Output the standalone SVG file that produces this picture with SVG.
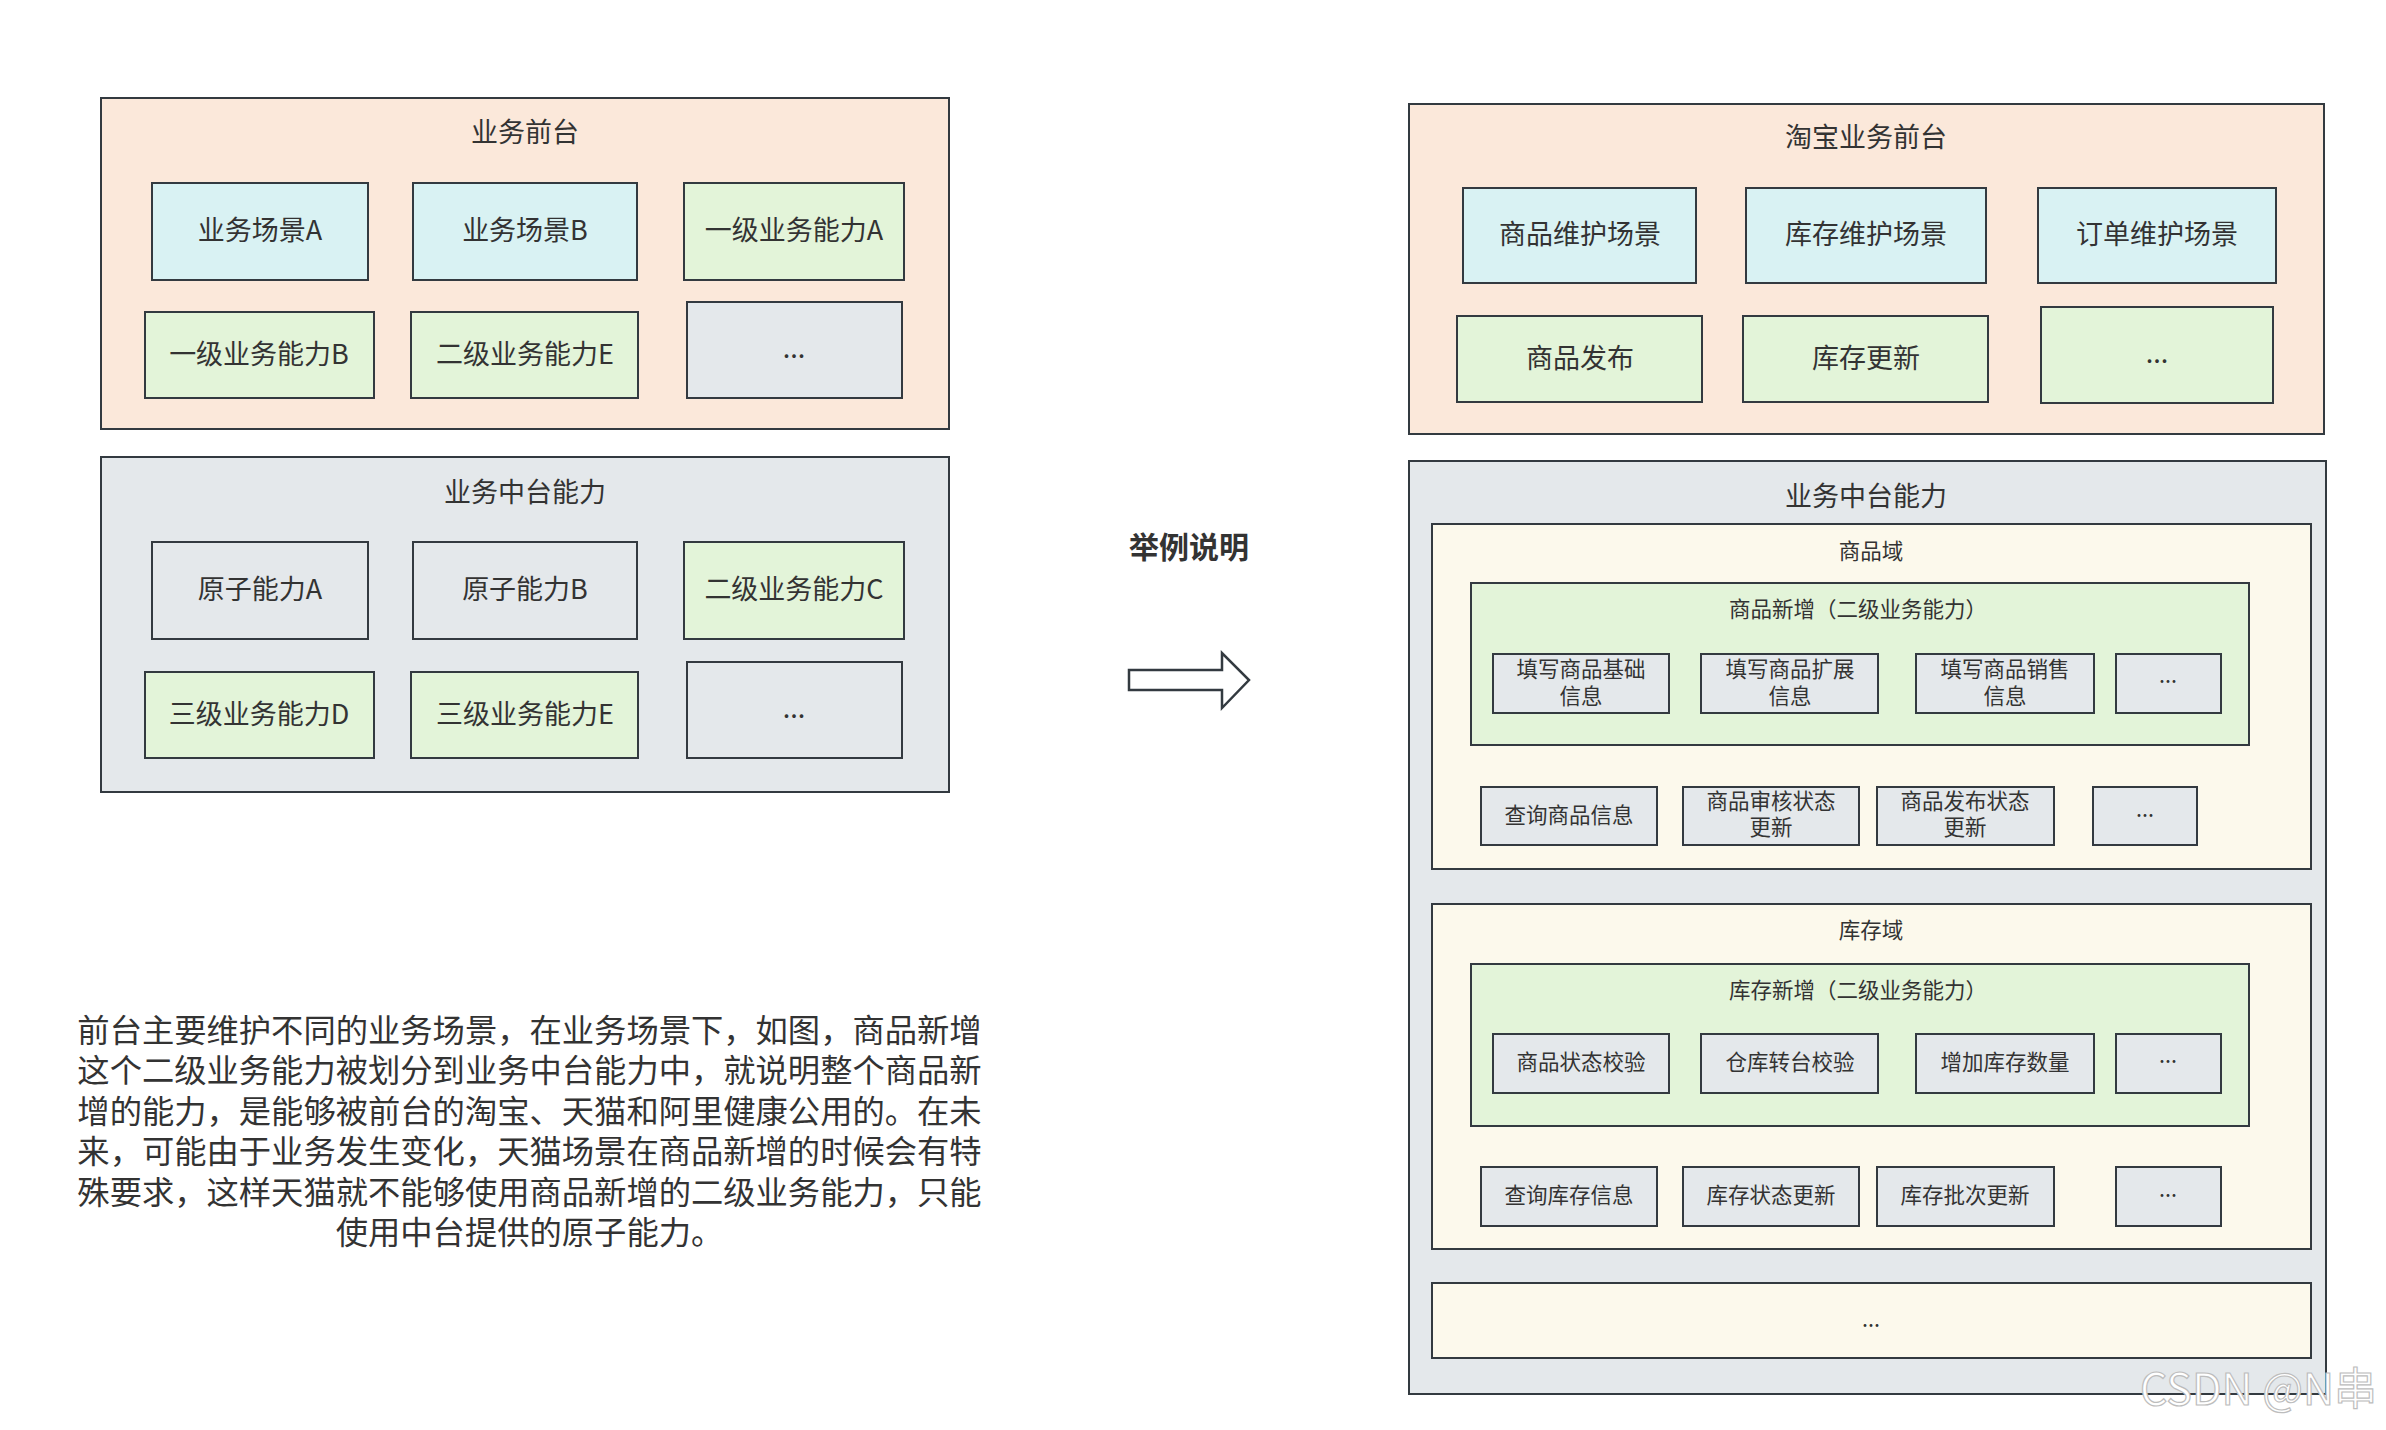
<svg xmlns="http://www.w3.org/2000/svg" width="2386" height="1430" viewBox="0 0 2386 1430">
<style>
.t{font-family:"Noto Sans CJK SC","Noto Sans",sans-serif;fill:#333;text-anchor:middle;dominant-baseline:central}
.f27{font-size:27px}
.f22{font-size:21.5px}
.fp{font-size:32.3px}
.b{stroke:#333a40;stroke-width:2}
.peach{fill:#fbe8da}
.cyan{fill:#d9f2f3}
.green{fill:#e3f4d9}
.gray{fill:#e4e8eb}
.cream{fill:#fcf9ec}
</style>
<rect width="2386" height="1430" fill="#ffffff"/>

<!-- Left: 业务前台 -->
<g id="left-front">
<rect class="b peach" x="101" y="98" width="848" height="331"/>
<text class="t f27" x="525" y="130">业务前台</text>
</g>
<g id="l-scene-a"><rect class="b cyan" x="152" y="183" width="216" height="97"/><text class="t f27" x="260" y="228">业务场景A</text></g>
<g id="l-scene-b"><rect class="b cyan" x="413" y="183" width="224" height="97"/><text class="t f27" x="525" y="228">业务场景B</text></g>
<g id="l-cap1a"><rect class="b green" x="684" y="183" width="220" height="97"/><text class="t f27" x="794" y="228">一级业务能力A</text></g>
<g id="l-cap1b"><rect class="b green" x="145" y="312" width="229" height="86"/><text class="t f27" x="259" y="352">一级业务能力B</text></g>
<g id="l-cap2e"><rect class="b green" x="411" y="312" width="227" height="86"/><text class="t f27" x="525" y="352">二级业务能力E</text></g>
<g id="l-front-more"><rect class="b gray" x="687" y="302" width="215" height="96"/><text class="t f27" x="794" y="346">...</text></g>

<!-- Left: 业务中台能力 -->
<g id="left-middle">
<rect class="b gray" x="101" y="457" width="848" height="335"/>
<text class="t f27" x="525" y="490">业务中台能力</text>
</g>
<g id="l-atom-a"><rect class="b gray" x="152" y="542" width="216" height="97"/><text class="t f27" x="260" y="587">原子能力A</text></g>
<g id="l-atom-b"><rect class="b gray" x="413" y="542" width="224" height="97"/><text class="t f27" x="525" y="587">原子能力B</text></g>
<g id="l-cap2c"><rect class="b green" x="684" y="542" width="220" height="97"/><text class="t f27" x="794" y="587">二级业务能力C</text></g>
<g id="l-cap3d"><rect class="b green" x="145" y="672" width="229" height="86"/><text class="t f27" x="259" y="712">三级业务能力D</text></g>
<g id="l-cap3e"><rect class="b green" x="411" y="672" width="227" height="86"/><text class="t f27" x="525" y="712">三级业务能力E</text></g>
<g id="l-middle-more"><rect class="b gray" x="687" y="662" width="215" height="96"/><text class="t f27" x="794" y="706">...</text></g>

<!-- Paragraph -->
<g id="description">
<text class="t fp"><tspan x="529.5" y="1028">前台主要维护不同的业务场景，在业务场景下，如图，商品新增</tspan><tspan x="529.5" y="1068.4">这个二级业务能力被划分到业务中台能力中，就说明整个商品新</tspan><tspan x="529.5" y="1108.8">增的能力，是能够被前台的淘宝、天猫和阿里健康公用的。在未</tspan><tspan x="529.5" y="1149.2">来，可能由于业务发生变化，天猫场景在商品新增的时候会有特</tspan><tspan x="529.5" y="1189.6">殊要求，这样天猫就不能够使用商品新增的二级业务能力，只能</tspan><tspan x="529.5" y="1230">使用中台提供的原子能力。</tspan></text>
</g>

<!-- Arrow -->
<g id="connectors">
<text class="t" x="1189" y="545" style="font-size:30px;font-weight:bold">举例说明</text>
<polygon points="1129,670 1222,670 1222,653 1249,680 1222,708 1222,690 1129,690" fill="#ffffff" stroke="#333a40" stroke-width="2.5" stroke-linejoin="miter"/>
</g>

<!-- Right: 淘宝业务前台 -->
<g id="right-front">
<rect class="b peach" x="1409" y="104" width="915" height="330"/>
<text class="t f27" x="1866" y="135">淘宝业务前台</text>
</g>
<g id="r-scene-goods"><rect class="b cyan" x="1463" y="188" width="233" height="95"/><text class="t f27" x="1580" y="232">商品维护场景</text></g>
<g id="r-scene-stock"><rect class="b cyan" x="1746" y="188" width="240" height="95"/><text class="t f27" x="1866" y="232">库存维护场景</text></g>
<g id="r-scene-order"><rect class="b cyan" x="2038" y="188" width="238" height="95"/><text class="t f27" x="2157" y="232">订单维护场景</text></g>
<g id="r-publish"><rect class="b green" x="1457" y="316" width="245" height="86"/><text class="t f27" x="1580" y="356">商品发布</text></g>
<g id="r-stock-update"><rect class="b green" x="1743" y="316" width="245" height="86"/><text class="t f27" x="1866" y="356">库存更新</text></g>
<g id="r-front-more"><rect class="b green" x="2041" y="307" width="232" height="96"/><text class="t f27" x="2157" y="351">...</text></g>

<!-- Right: 业务中台能力 -->
<g id="right-middle">
<rect class="b gray" x="1409" y="461" width="917" height="933"/>
<text class="t f27" x="1866" y="494">业务中台能力</text>
</g>

<!-- 商品域 -->
<g id="goods-domain">
<rect class="b cream" x="1432" y="524" width="879" height="345"/>
<text class="t f22" x="1871" y="549">商品域</text>
</g>
<g id="goods-add">
<rect class="b green" x="1471" y="583" width="778" height="162"/>
<text class="t f22" x="1858" y="607">商品新增（二级业务能力）</text>
</g>
<g id="g-fill-basic"><rect class="b gray" x="1493" y="654" width="176" height="59"/><text class="t f22"><tspan x="1581" y="667">填写商品基础</tspan><tspan x="1581" y="694">信息</tspan></text></g>
<g id="g-fill-ext"><rect class="b gray" x="1701" y="654" width="177" height="59"/><text class="t f22"><tspan x="1790" y="667">填写商品扩展</tspan><tspan x="1790" y="694">信息</tspan></text></g>
<g id="g-fill-sale"><rect class="b gray" x="1916" y="654" width="178" height="59"/><text class="t f22"><tspan x="2005" y="667">填写商品销售</tspan><tspan x="2005" y="694">信息</tspan></text></g>
<g id="g-add-more"><rect class="b gray" x="2116" y="654" width="105" height="59"/><text class="t f22" x="2168" y="673">...</text></g>
<g id="g-query"><rect class="b gray" x="1481" y="787" width="176" height="58"/><text class="t f22" x="1569" y="813">查询商品信息</text></g>
<g id="g-audit"><rect class="b gray" x="1683" y="787" width="176" height="58"/><text class="t f22"><tspan x="1771" y="799">商品审核状态</tspan><tspan x="1771" y="825">更新</tspan></text></g>
<g id="g-pub-state"><rect class="b gray" x="1877" y="787" width="177" height="58"/><text class="t f22"><tspan x="1965" y="799">商品发布状态</tspan><tspan x="1965" y="825">更新</tspan></text></g>
<g id="g-more"><rect class="b gray" x="2093" y="787" width="104" height="58"/><text class="t f22" x="2145" y="807">...</text></g>

<!-- 库存域 -->
<g id="stock-domain">
<rect class="b cream" x="1432" y="904" width="879" height="345"/>
<text class="t f22" x="1871" y="928">库存域</text>
</g>
<g id="stock-add">
<rect class="b green" x="1471" y="964" width="778" height="162"/>
<text class="t f22" x="1858" y="988">库存新增（二级业务能力）</text>
</g>
<g id="s-goods-check"><rect class="b gray" x="1493" y="1034" width="176" height="59"/><text class="t f22" x="1581" y="1060">商品状态校验</text></g>
<g id="s-wh-check"><rect class="b gray" x="1701" y="1034" width="177" height="59"/><text class="t f22" x="1790" y="1060">仓库转台校验</text></g>
<g id="s-add-qty"><rect class="b gray" x="1916" y="1034" width="178" height="59"/><text class="t f22" x="2005" y="1060">增加库存数量</text></g>
<g id="s-add-more"><rect class="b gray" x="2116" y="1034" width="105" height="59"/><text class="t f22" x="2168" y="1053">...</text></g>
<g id="s-query"><rect class="b gray" x="1481" y="1167" width="176" height="59"/><text class="t f22" x="1569" y="1193">查询库存信息</text></g>
<g id="s-state"><rect class="b gray" x="1683" y="1167" width="176" height="59"/><text class="t f22" x="1771" y="1193">库存状态更新</text></g>
<g id="s-batch"><rect class="b gray" x="1877" y="1167" width="177" height="59"/><text class="t f22" x="1965" y="1193">库存批次更新</text></g>
<g id="s-more"><rect class="b gray" x="2116" y="1167" width="105" height="59"/><text class="t f22" x="2168" y="1187">...</text></g>

<!-- other domains -->
<g id="other-domains">
<rect class="b cream" x="1432" y="1283" width="879" height="75"/>
<text class="t f22" x="1871" y="1317">...</text>
</g>

<!-- watermark -->
<text x="2140" y="1405" textLength="237" lengthAdjust="spacingAndGlyphs" style="font-family:'Noto Sans CJK SC','Noto Sans',sans-serif;font-size:44px;fill:#ffffff;stroke:#bdbdbd;stroke-width:1.2">CSDN @N串</text>
</svg>
